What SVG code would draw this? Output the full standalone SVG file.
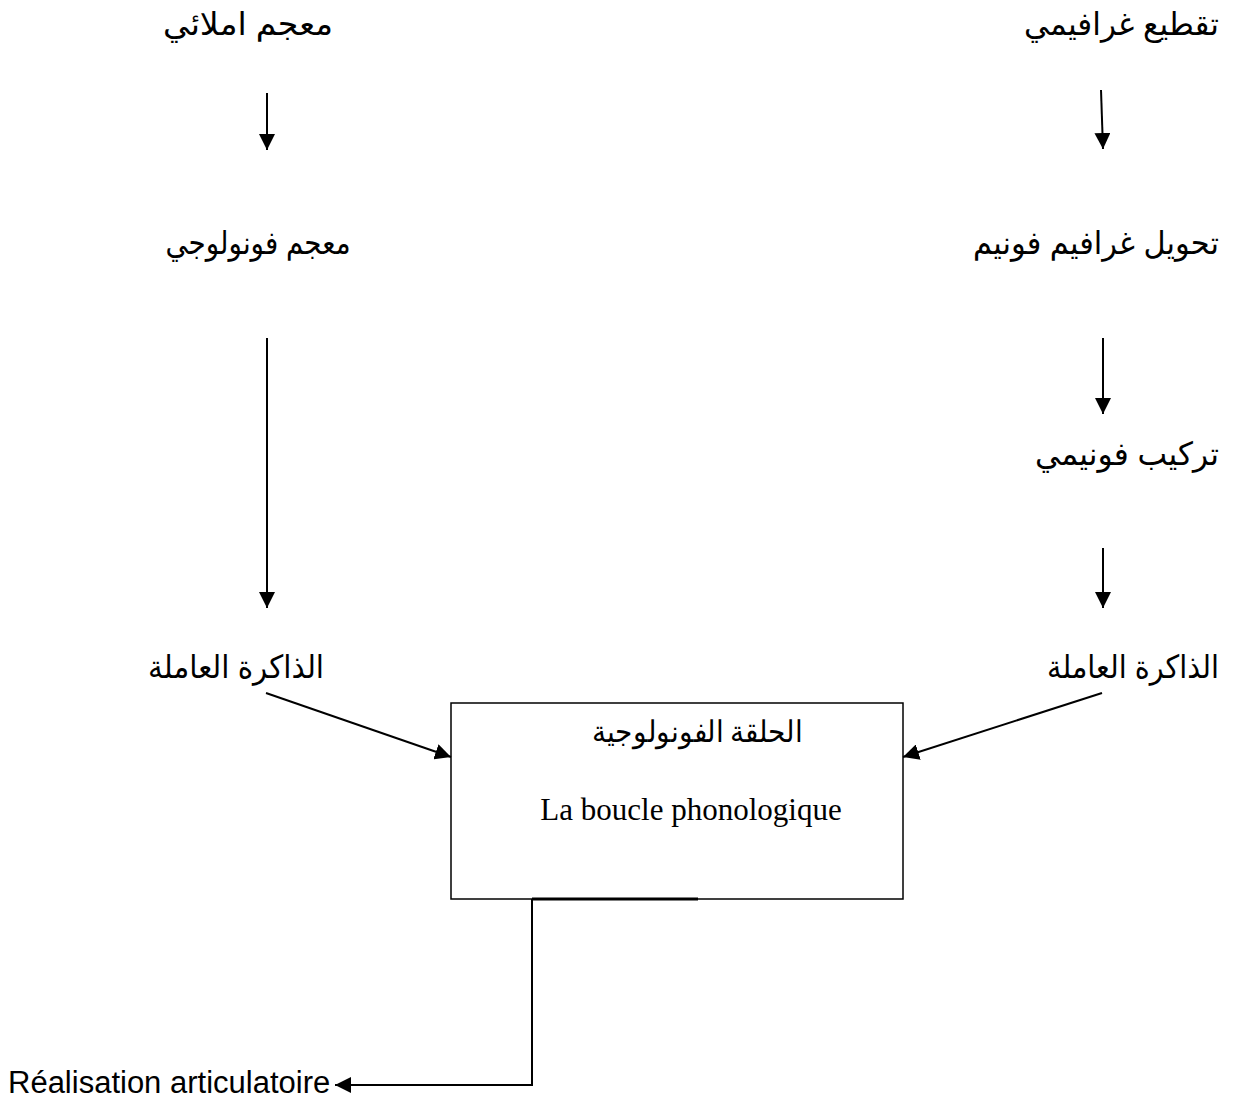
<svg xmlns="http://www.w3.org/2000/svg" width="1233" height="1101" viewBox="0 0 1233 1101">
  <style>
    .ar { font-family: "Liberation Sans", "DejaVu Sans", sans-serif; font-size: 32px; fill: #000; text-anchor: middle; }
    .ar.right { text-anchor: end; }
    .ser { font-family: "Liberation Serif", "DejaVu Serif", serif; fill: #000; text-anchor: middle; }
    .lat { font-family: "Liberation Sans", Arial, sans-serif; font-size: 31px; fill: #000; }
    .wire { stroke: #000; stroke-width: 2; fill: none; }
  </style>
  <defs>
    <marker id="head" viewBox="0 0 10 10" refX="10" refY="5" markerWidth="16" markerHeight="16" markerUnits="userSpaceOnUse" orient="auto">
      <path d="M0,0 L10,5 L0,10 z" fill="#000"/>
    </marker>
  </defs>

  <rect width="1233" height="1101" fill="#fff"/>

  <!-- left column -->
  <g id="n-orth-lexicon"><text class="ar" x="248" y="35" textLength="170" lengthAdjust="spacingAndGlyphs">معجم املائي</text></g>
  <g id="n-phon-lexicon"><text class="ar" x="258" y="254" textLength="185" lengthAdjust="spacingAndGlyphs">معجم فونولوجي</text></g>
  <g id="n-wm-left"><text class="ar" x="236" y="678" textLength="176" lengthAdjust="spacingAndGlyphs">الذاكرة العاملة</text></g>

  <!-- right column (right-aligned) -->
  <g id="n-graph-seg"><text class="ar right" x="1219" y="35" textLength="195" lengthAdjust="spacingAndGlyphs">تقطيع غرافيمي</text></g>
  <g id="n-gp-conv"><text class="ar right" x="1219" y="254" textLength="246" lengthAdjust="spacingAndGlyphs">تحويل غرافيم فونيم</text></g>
  <g id="n-phon-synth"><text class="ar right" x="1219" y="465" textLength="184" lengthAdjust="spacingAndGlyphs">تركيب فونيمي</text></g>
  <g id="n-wm-right"><text class="ar right" x="1219" y="678" textLength="172" lengthAdjust="spacingAndGlyphs">الذاكرة العاملة</text></g>

  <!-- phonological loop -->
  <g id="n-loop">
    <rect x="451" y="703" width="452" height="196" fill="#fff" stroke="#000" stroke-width="1.5"/>
    <text class="ser" x="697" y="742" font-size="30" textLength="210" lengthAdjust="spacingAndGlyphs">الحلقة الفونولوجية</text>
    <text class="ser" x="691" y="820" font-size="31">La boucle phonologique</text>
  </g>

  <g id="n-articulation"><text class="lat" x="8" y="1093">Réalisation articulatoire</text></g>

  <!-- connectors -->
  <g id="connectors">
    <line class="wire" x1="267" y1="93" x2="267" y2="150" marker-end="url(#head)"/>
    <line class="wire" x1="1101" y1="90" x2="1103" y2="149" marker-end="url(#head)"/>
    <line class="wire" x1="267" y1="338" x2="267" y2="608" marker-end="url(#head)"/>
    <line class="wire" x1="1103" y1="338" x2="1103" y2="414" marker-end="url(#head)"/>
    <line class="wire" x1="1103" y1="548" x2="1103" y2="608" marker-end="url(#head)"/>
    <line class="wire" x1="266" y1="693" x2="451" y2="757" marker-end="url(#head)"/>
    <line class="wire" x1="1102" y1="693" x2="903" y2="757" marker-end="url(#head)"/>
    <line x1="532" y1="899" x2="698" y2="899" stroke="#000" stroke-width="3"/>
    <polyline class="wire" points="532,899 532,1085 335,1085" marker-end="url(#head)"/>
  </g>
</svg>
